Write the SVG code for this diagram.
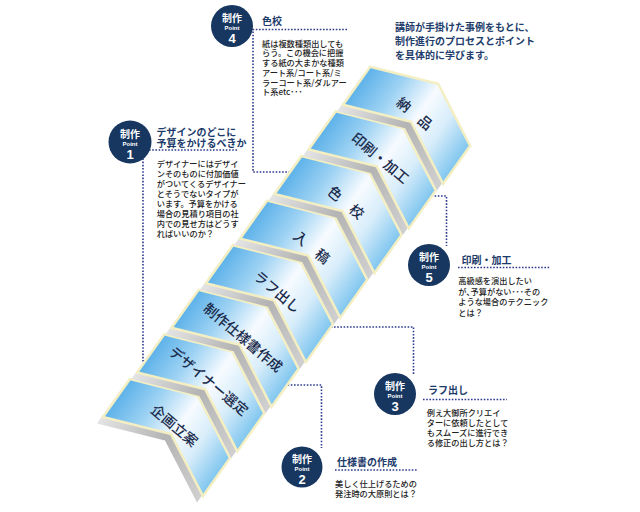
<svg xmlns="http://www.w3.org/2000/svg" xmlns:xlink="http://www.w3.org/1999/xlink" width="640" height="512" viewBox="0 0 640 512">
<defs>
  <linearGradient id="faceGrad" gradientUnits="userSpaceOnUse" x1="-5" y1="-3" x2="104" y2="74">
    <stop offset="0" stop-color="#52ace8"/>
    <stop offset="0.3" stop-color="#9dd2f3"/>
    <stop offset="0.55" stop-color="#f7fbff"/>
    <stop offset="0.75" stop-color="#d8edfa"/>
    <stop offset="1" stop-color="#7ec5ef"/>
  </linearGradient>
  <linearGradient id="sideGrad" gradientUnits="userSpaceOnUse" x1="0" y1="0" x2="104" y2="74">
    <stop offset="0" stop-color="#e4e4e4"/>
    <stop offset="0.5" stop-color="#b4b4b4"/>
    <stop offset="1" stop-color="#d0d0d0"/>
  </linearGradient>
  <path id="chev" d="M0,0 L68,17 L100,79 L73,117 L41,55 L-27,38 Z"/>
</defs>
<style>
  .face{fill:url(#faceGrad);stroke:#f4efc2;stroke-width:2.5;stroke-linejoin:miter}
  .side{fill:url(#sideGrad)}
  .lbl{font-family:"Noto Sans CJK JP","Noto Sans CJK SC",sans-serif;font-size:14px;font-weight:500;fill:#1b2b4b;text-anchor:middle;dominant-baseline:central}
  .conn{fill:none;stroke:#2e3a8c;stroke-width:1.6;stroke-dasharray:1.6 1.6}
  .badge circle{fill:#173760}
  .bt{font-family:"Noto Sans CJK JP",sans-serif;fill:#ffffff;font-weight:bold;text-anchor:middle;dominant-baseline:central}
  .pt{font-family:"Liberation Sans",Arial,sans-serif;fill:#ffffff;font-weight:bold;text-anchor:middle;dominant-baseline:central}
  .h{font-family:"Noto Sans CJK JP",sans-serif;font-size:10px;font-weight:bold;fill:#1c3b6a;dominant-baseline:central}
  .body{font-family:"Noto Sans CJK JP",sans-serif;font-size:8.2px;font-weight:500;fill:#222222;dominant-baseline:central}
  .intro{font-family:"Noto Sans CJK JP",sans-serif;font-size:10px;font-weight:bold;fill:#1e3d6b;dominant-baseline:central}
</style>

<rect width="640" height="512" fill="#ffffff"/>

<g id="connectors">
  <path class="conn" d="M347,29.5 H253 V172 H295"/>
  <path class="conn" d="M237,150 H143 V370"/>
  <path class="conn" d="M425,196 H446.5 V246"/>
  <path class="conn" d="M318,327 H413.5 V375"/>
  <path class="conn" d="M278,385 H321.5 V448"/>
  <path class="conn" d="M458,267.5 H550"/>
  <path class="conn" d="M423,399.5 H507"/>
  <path class="conn" d="M335,470 H417"/>
</g>

<g id="step1" transform="translate(130,379)">
  <use xlink:href="#chev" class="side" transform="translate(-6,6.5)"/>
  <use xlink:href="#chev" class="face"/>
  <text class="lbl" transform="translate(45,46) rotate(40)">企画立案</text>
</g>
<g id="step2" transform="translate(164.3,334.4)">
  <use xlink:href="#chev" class="side" transform="translate(-6,6.5)"/>
  <use xlink:href="#chev" class="face"/>
  <text class="lbl" transform="translate(45,46) rotate(40)">デザイナー選定</text>
</g>
<g id="step3" transform="translate(198.6,289.8)">
  <use xlink:href="#chev" class="side" transform="translate(-6,6.5)"/>
  <use xlink:href="#chev" class="face"/>
  <text class="lbl" transform="translate(45,47) rotate(40)">制作仕様書作成</text>
</g>
<g id="step4" transform="translate(232.9,245.2)">
  <use xlink:href="#chev" class="side" transform="translate(-6,6.5)"/>
  <use xlink:href="#chev" class="face"/>
  <text class="lbl" transform="translate(45,46) rotate(40)">ラフ出し</text>
</g>
<g id="step5" transform="translate(267.2,200.6)">
  <use xlink:href="#chev" class="side" transform="translate(-6,6.5)"/>
  <use xlink:href="#chev" class="face"/>
  <text class="lbl" transform="translate(45,46) rotate(40)">入　稿</text>
</g>
<g id="step6" transform="translate(301.5,156)">
  <use xlink:href="#chev" class="side" transform="translate(-6,6.5)"/>
  <use xlink:href="#chev" class="face"/>
  <text class="lbl" transform="translate(45,46) rotate(40)">色　校</text>
</g>
<g id="step7" transform="translate(335.8,111.4)">
  <use xlink:href="#chev" class="side" transform="translate(-6,6.5)"/>
  <use xlink:href="#chev" class="face"/>
  <text class="lbl" transform="translate(45,46) rotate(40)">印刷・加工</text>
</g>
<g id="step8" transform="translate(370.1,66.8)">
  <use xlink:href="#chev" class="side" transform="translate(-6,6.5)"/>
  <use xlink:href="#chev" class="face"/>
  <text class="lbl" transform="translate(45,46) rotate(40)">納　品</text>
</g>

<g id="point4">
  <g class="badge">
    <circle cx="232" cy="26" r="21"/>
    <text class="bt" x="232" y="17.5" font-size="10">制作</text>
    <text class="pt" x="232" y="27.8" font-size="6">Point</text>
    <text class="pt" x="232" y="38.5" font-size="13">4</text>
  </g>
  <text class="h" x="262" y="20">色校</text>
  <text class="body" x="262" y="42.7">紙は複数種類出しても</text>
  <text class="body" x="262" y="52.4">らう。この機会に把握</text>
  <text class="body" x="262" y="62.1">する紙の大まかな種類</text>
  <text class="body" x="262" y="71.8">アート系/コート系/ミ</text>
  <text class="body" x="262" y="81.5">ラーコート系/ダルアー</text>
  <text class="body" x="262" y="91.2">ト系etc･･･</text>
</g>

<g id="point1">
  <g class="badge">
    <circle cx="130" cy="142" r="21.5"/>
    <text class="bt" x="130" y="133.5" font-size="10">制作</text>
    <text class="pt" x="130" y="143.8" font-size="6">Point</text>
    <text class="pt" x="130" y="154.5" font-size="13">1</text>
  </g>
  <text class="h" x="156.5" y="131">デザインのどこに</text>
  <text class="h" x="156.5" y="142.5">予算をかけるべきか</text>
  <text class="body" x="156.7" y="163.3">デザイナーにはデザイ</text>
  <text class="body" x="156.7" y="173.3">ンそのものに付加価値</text>
  <text class="body" x="156.7" y="183.3">がついてくるデザイナー</text>
  <text class="body" x="156.7" y="193.3">とそうでないタイプが</text>
  <text class="body" x="156.7" y="203.3">います。予算をかける</text>
  <text class="body" x="156.7" y="213.3">場合の見積り項目の社</text>
  <text class="body" x="156.7" y="223.3">内での見せ方はどうす</text>
  <text class="body" x="156.7" y="233.3">ればいいのか？</text>
</g>

<g id="point5">
  <g class="badge">
    <circle cx="429" cy="265" r="21"/>
    <text class="bt" x="429" y="256.5" font-size="10">制作</text>
    <text class="pt" x="429" y="266.8" font-size="6">Point</text>
    <text class="pt" x="429" y="277.5" font-size="13">5</text>
  </g>
  <text class="h" x="461.5" y="259">印刷・加工</text>
  <text class="body" x="458.3" y="280">高級感を演出したい</text>
  <text class="body" x="458.3" y="290.5">が､予算がない･･･その</text>
  <text class="body" x="458.3" y="301">ような場合のテクニック</text>
  <text class="body" x="458.3" y="311.5">とは？</text>
</g>

<g id="point3">
  <g class="badge">
    <circle cx="395" cy="394" r="21"/>
    <text class="bt" x="395" y="385.5" font-size="10">制作</text>
    <text class="pt" x="395" y="395.8" font-size="6">Point</text>
    <text class="pt" x="395" y="406.5" font-size="13">3</text>
  </g>
  <text class="h" x="428" y="389">ラフ出し</text>
  <text class="body" x="426.7" y="411.7">例え大御所クリエイ</text>
  <text class="body" x="426.7" y="421.7">ターに依頼したとして</text>
  <text class="body" x="426.7" y="431.7">もスムーズに進行でき</text>
  <text class="body" x="426.7" y="441.7">る修正の出し方とは？</text>
</g>

<g id="point2">
  <g class="badge">
    <circle cx="302" cy="467" r="20.5"/>
    <text class="bt" x="302" y="458.5" font-size="10">制作</text>
    <text class="pt" x="302" y="468.8" font-size="6">Point</text>
    <text class="pt" x="302" y="479.5" font-size="13">2</text>
  </g>
  <text class="h" x="337" y="461.5">仕様書の作成</text>
  <text class="body" x="335" y="482.7">美しく仕上げるための</text>
  <text class="body" x="335" y="492.7">発注時の大原則とは？</text>
</g>

<g id="intro">
  <text class="intro" x="395" y="26">講師が手掛けた事例をもとに、</text>
  <text class="intro" x="395" y="40.5">制作進行のプロセスとポイント</text>
  <text class="intro" x="395" y="54">を具体的に学びます。</text>
</g>
</svg>
